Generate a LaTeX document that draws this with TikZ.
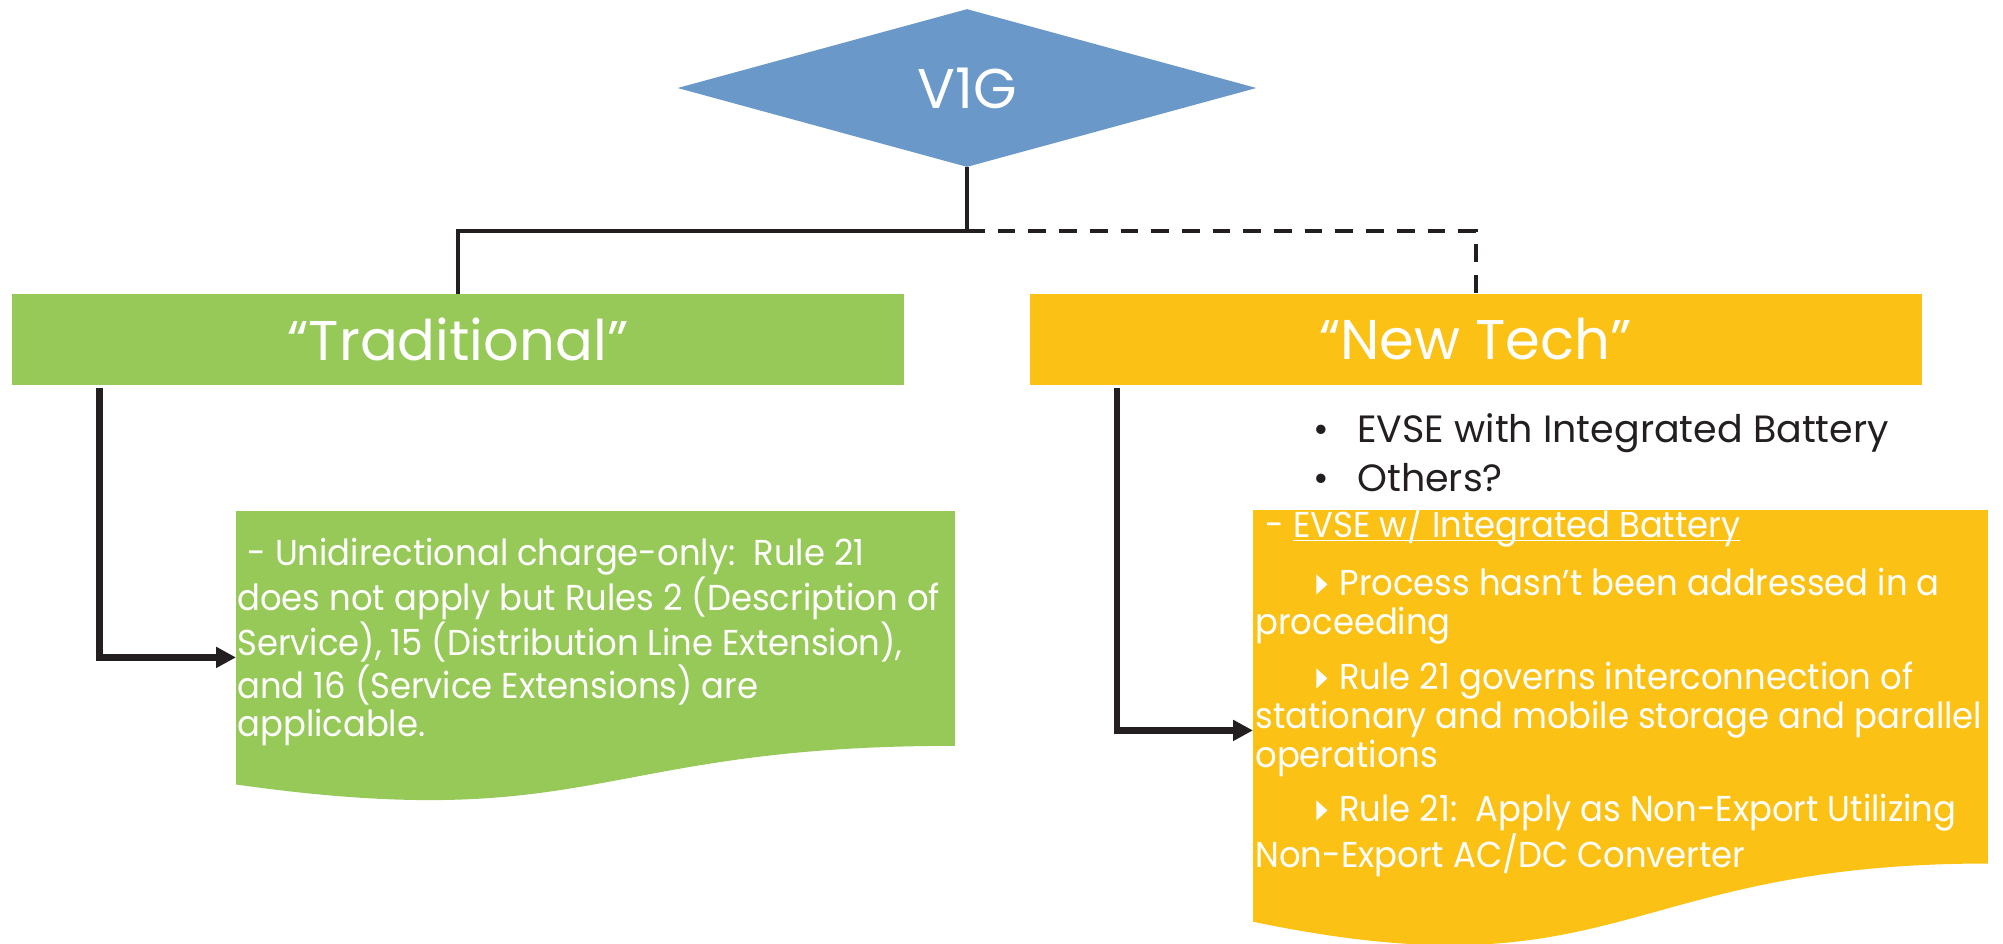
\documentclass[tikz,border=0pt]{standalone}
\usepackage{fontspec}
\setmainfont{Poppins}
\newfontfamily\bodyfont[FakeStretch=0.94]{Poppins}
\usetikzlibrary{shapes.geometric, positioning, arrows.meta, calc}

\definecolor{vblue}{HTML}{6A98C9}
\definecolor{tradgreen}{HTML}{96C957}
\definecolor{techyellow}{HTML}{FCC115}
\definecolor{inkline}{HTML}{231F20}

\tikzset{
    decision/.style = {diamond, aspect=3.66, fill=vblue, inner sep=0pt,
        minimum width=289.5pt, minimum height=79pt, text=white,
        font=\fontsize{28}{30}\selectfont},
    branch/.style = {rectangle, inner sep=0pt, minimum width=446pt,
        minimum height=45.5pt, text=white, font=\fontsize{28}{30}\selectfont},
    docbox/.style = {rectangle, inner sep=0pt, anchor=north west},
    doctext/.style = {inner sep=0pt, anchor=north west, align=left,
        text=white, font=\bodyfont\fontsize{18}{19.25}\selectfont},
    link/.style = {draw=inkline, line width=2pt},
    elbow/.style = {draw=inkline, line width=3.2pt,
        -{Triangle[length=10pt,width=10pt]}},
}

% document shape with a wavy bottom, filled behind its text
\newcommand\docfill[2]{%
    \fill[#2] (#1.north west) -- (#1.north east)
        -- ($(#1.north east)!0.802!(#1.south east)$)
        .. controls ($(#1.north)!0.802!(#1.south)$) and ($(#1.north)!1.1075!(#1.south)$)
        .. ($(#1.north west)!0.934!(#1.south west)$) -- cycle;}
\newcommand\tri{\tikz[baseline=0pt]\fill[white] (0pt,0.5pt) -- (0pt,10.5pt) -- (5.5pt,5.5pt) -- cycle;}
\newcommand\firstrow{\rule{0pt}{20pt}}

\begin{document}
\begin{tikzpicture}[x=0.5pt, y=-0.5pt]
    \useasboundingbox (0,0) rectangle (2003,943);

    \node (v1g) [decision] at (967,88) {V1G};
    \node (trad) [branch, fill=tradgreen] at (458,339.5) {“Traditional”};
    \node (tech) [branch, fill=techyellow] at (1475.5,339.5) {“New Tech”};

    \node (gdoc) [docbox, minimum width=359pt, minimum height=146pt] at (236,511) {};
    \node (ydoc) [docbox, minimum width=367pt, minimum height=220pt] at (1253,510) {};
    \docfill{gdoc}{tradgreen}
    \docfill{ydoc}{techyellow}

    \node (gtext) [doctext] at (237,525) {\firstrow\hspace*{5pt}- Unidirectional charge-only:\ \ Rule 21\\
        does not apply but Rules 2 (Description of\\
        Service), 15 (Distribution Line Extension),\\
        and 16 (Service Extensions) are\\
        applicable.};
    \node (bullets) [doctext, text=inkline, font=\fontsize{19}{19.25}\selectfont] at (1313,402) {\firstrow\makebox[22pt][l]{•}EVSE with Integrated Battery\\[5.25pt]
        \makebox[22pt][l]{•}Others?};
    \node (ytext) [doctext, font=\bodyfont\fontsize{18}{19.5}\selectfont] at (1255,497) {\firstrow\hspace*{5pt}- \underline{\smash{EVSE w/ Integrated Battery}}\\[9.5pt]
        \hspace*{30.5pt}\tri\hspace{6pt}Process hasn’t been addressed in a\\
        proceeding\\[8pt]
        \hspace*{30.5pt}\tri\hspace{6pt}Rule 21 governs interconnection of\\
        stationary and mobile storage and parallel\\
        operations\\[7.5pt]
        \hspace*{30.5pt}\tri\hspace{6pt}Rule 21:\ \ Apply as Non-Export Utilizing\\
        Non-Export AC/DC Converter};

    \coordinate (bus) at (967,231);
    \draw[link] (v1g.south) -- (bus) -| (trad.north);
    \draw[link, dash pattern=on 8.85pt off 6.5pt] (bus) -| (tech.north);
    \draw[elbow] ($(trad.south west)+(88,3)$) |- (gdoc.west);
    \draw[elbow] ($(tech.south west)+(88,3)$) |- (ydoc.west);
\end{tikzpicture}
\end{document}
